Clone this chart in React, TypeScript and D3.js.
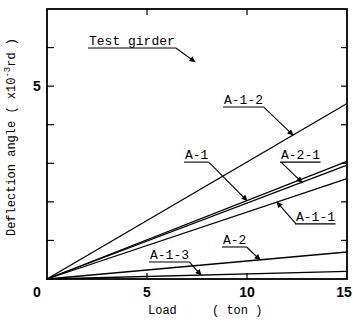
import * as d3 from "d3";

// Load (ton) and deflection angle (x10^-3 rd)
const loads = [0, 15];
const seriesNames = ["A-1-2", "A-1", "A-2-1", "A-1-1", "A-2", "A-1-3"];
const angles = [
  [0, 4.55],
  [0, 3.05],
  [0, 2.95],
  [0, 2.6],
  [0, 0.7],
  [0, 0.2],
];

const xTickValues = [0, 5, 10, 15];
const yTickLabels = [5];
const yMinorTicks = [1, 2, 3, 4, 5, 6];

// label anchors in data units; leader goes from the underline to a point on the line
const labelLoad = [8.85, 6.9, 11.7, 12.45, 8.8, 5.15];
const labelAngle = [4.46, 3.03, 3.03, 1.43, 0.83, 0.44];
const leaderSide = ["end", "end", "start", "start", "end", "end"];
const tipLoad = [12.3, 10, 12.75, 11.5, 10.65, 7.7];

const W = 353;
const H = 327;
const margin = { top: 9, right: 6, bottom: 48, left: 47 };
const mono = "'Liberation Mono', 'DejaVu Sans Mono', monospace";
const sans = "'Liberation Sans', Arial, sans-serif";
const CH = 7.9; // char advance of the label font

export default function App() {
  const x = d3.scaleLinear().domain([0, 15]).range([margin.left, W - margin.right]);
  const y = d3.scaleLinear().domain([0, 7]).range([H - margin.bottom, margin.top]);
  const line = d3
    .line<number>()
    .x((_, i) => x(loads[i]))
    .y((d) => y(d));

  const valueAt = (k: number, load: number) =>
    d3.scaleLinear().domain(loads).range(angles[k])(load);

  const x0 = x(0), x1 = x(15), y0 = y(0), y1 = y(7);

  return (
    <svg
      width={W}
      height={H}
      style={{ position: "absolute", left: 0, top: 0, background: "#fff" }}
    >
      <defs>
        <marker
          id="arr"
          viewBox="0 0 10 10"
          refX="9"
          refY="5"
          markerWidth="7"
          markerHeight="6"
          markerUnits="userSpaceOnUse"
          orient="auto"
        >
          <path d="M0,0 L10,5 L0,10 Z" fill="#000" />
        </marker>
      </defs>

      {/* frame */}
      <rect
        x={x0}
        y={y1}
        width={x1 - x0}
        height={y0 - y1}
        fill="none"
        stroke="#000"
        strokeWidth={1.8}
      />
      {yMinorTicks.map((t) => (
        <g key={"yt" + t}>
          <line x1={x0} x2={x0 + 7} y1={y(t)} y2={y(t)} stroke="#000" strokeWidth={1.2} />
          <line x1={x1} x2={x1 - 6} y1={y(t)} y2={y(t)} stroke="#000" strokeWidth={1.2} />
        </g>
      ))}
      {[5, 10].map((t) => (
        <g key={"xt" + t}>
          <line x1={x(t)} x2={x(t)} y1={y0} y2={y0 - 6} stroke="#000" strokeWidth={1.2} />
          <line x1={x(t)} x2={x(t)} y1={y1} y2={y1 + 6} stroke="#000" strokeWidth={1.2} />
        </g>
      ))}

      {/* tick labels */}
      {xTickValues.map((t) => (
        <text
          key={"xl" + t}
          x={t === 0 ? x0 - 10 : t === 15 ? x(t) - 3 : x(t)}
          y={y0 + 18}
          textAnchor="middle"
          fontFamily={sans}
          fontSize={14}
          fontWeight="bold"
        >
          {t}
        </text>
      ))}
      {yTickLabels.map((t) => (
        <text
          key={"yl" + t}
          x={x0 - 10}
          y={y(t) + 5}
          textAnchor="middle"
          fontFamily={sans}
          fontSize={14}
          fontWeight="bold"
        >
          {t}
        </text>
      ))}

      {/* axis titles */}
      <text x={148} y={314} fontFamily={mono} fontSize={12}>
        Load
      </text>
      <text x={212} y={314} fontFamily={mono} fontSize={12}>
        ( ton )
      </text>
      <text
        transform={`translate(15,${137}) rotate(-90)`}
        textAnchor="middle"
        fontFamily={mono}
        fontSize={12}
      >
        Deflection angle  ( x10<tspan fontSize={9} dy={-5}>-3</tspan>
        <tspan dy={5}>rd )</tspan>
      </text>

      {/* data lines */}
      {angles.map((a, k) => (
        <path key={seriesNames[k]} d={line(a) ?? ""} fill="none" stroke="#000" strokeWidth={1.3} />
      ))}

      {/* labels with leaders */}
      {seriesNames.map((name, k) => {
        const lx = x(labelLoad[k]);
        const ly = y(labelAngle[k]);
        const w = name.length * CH;
        const sx = leaderSide[k] === "end" ? lx + w : lx;
        const tx = x(tipLoad[k]);
        const ty = y(valueAt(k, tipLoad[k]));
        return (
          <g key={"lab" + name}>
            <text x={lx} y={ly - 3} fontFamily={mono} fontSize={13}>
              {name}
            </text>
            <line x1={lx - 1} x2={lx + w} y1={ly} y2={ly} stroke="#000" strokeWidth={1.1} />
            <line
              x1={sx}
              y1={ly}
              x2={tx}
              y2={ty}
              stroke="#000"
              strokeWidth={1.1}
              markerEnd="url(#arr)"
            />
          </g>
        );
      })}

      {/* test girder note */}
      {(() => {
        const lx = x(2.1);
        const ly = y(5.99);
        const w = "Test girder".length * CH;
        return (
          <g>
            <text x={lx} y={ly - 3} fontFamily={mono} fontSize={13}>
              Test girder
            </text>
            <line x1={lx - 1} x2={lx + w} y1={ly} y2={ly} stroke="#000" strokeWidth={1.1} />
            <line
              x1={lx + w}
              y1={ly}
              x2={x(7.4)}
              y2={y(5.63)}
              stroke="#000"
              strokeWidth={1.1}
              markerEnd="url(#arr)"
            />
          </g>
        );
      })()}
    </svg>
  );
}
